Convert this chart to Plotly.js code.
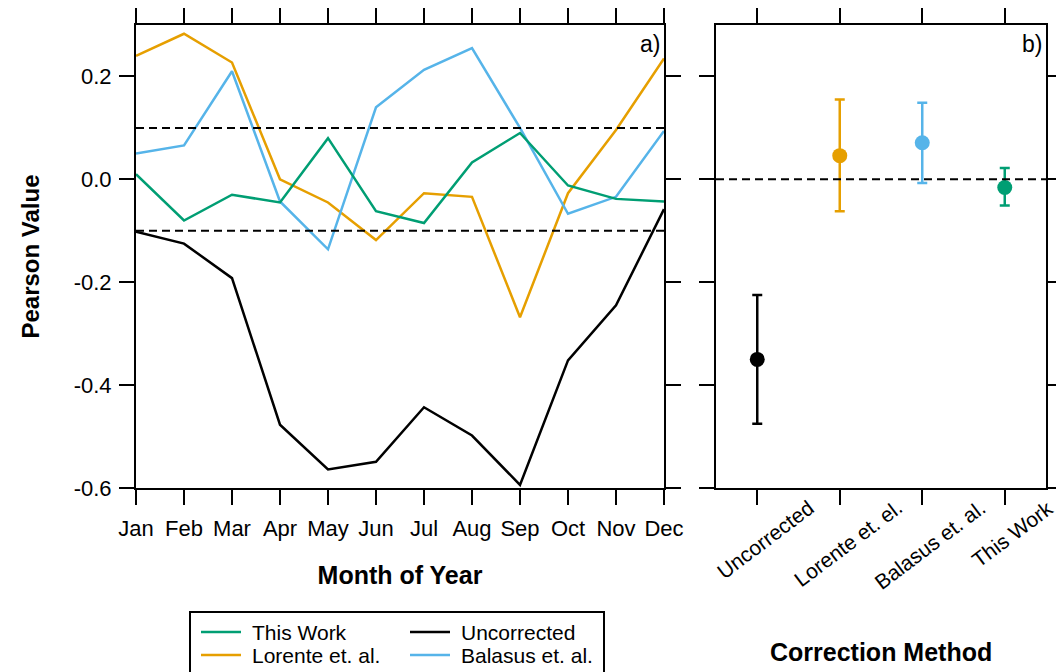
<!DOCTYPE html>
<html>
<head>
<meta charset="utf-8">
<script src="https://cdn.plot.ly/plotly-3.0.1.min.js"></script>
<style>html,body{margin:0;padding:0;background:#fff;}#chart{width:1056px;height:672px;}</style>
</head>
<body>
<div id="chart"></div>
<script>
// ---- data ----
const months = ['Jan','Feb','Mar','Apr','May','Jun','Jul','Aug','Sep','Oct','Nov','Dec'];
const thisWork    = [0.010, -0.080, -0.030, -0.045, 0.080, -0.062, -0.085, 0.033, 0.090, -0.012, -0.038, -0.043];
const lorente     = [0.240, 0.283, 0.227, 0.000, -0.045, -0.118, -0.027, -0.034, -0.268, -0.027, 0.096, 0.235];
const balasus     = [0.050, 0.066, 0.210, -0.043, -0.136, 0.140, 0.213, 0.255, 0.100, -0.067, -0.034, 0.094];
const uncorrected = [-0.102, -0.125, -0.192, -0.477, -0.564, -0.549, -0.443, -0.498, -0.594, -0.352, -0.245, -0.058];

const methods   = ['Uncorrected', 'Lorente et. el.', 'Balasus et. al.', 'This Work'];
const meanVals  = [-0.350, 0.046, 0.071, -0.016];
const errUpper  = [0.125, 0.109, 0.078, 0.038];
const errLower  = [0.125, 0.108, 0.078, 0.035];

const seriesNames = ['This Work', 'Uncorrected', 'Lorente et. al.', 'Balasus et. al.'];
const yTickVals = [-0.6, -0.4, -0.2, 0.0, 0.2];
const yTickText = ['-0.6', '-0.4', '-0.2', '0.0', '0.2'];
const thresholds = [0.1, -0.1];

// ---- style ----
const C = {green:'#009E73', orange:'#E69F00', blue:'#56B4E9', black:'#000000'};
const seriesData = [thisWork, uncorrected, lorente, balasus];
const seriesColors = [C.green, C.black, C.orange, C.blue];
const methodColors = [C.black, C.orange, C.blue, C.green];
const FONT = 'Liberation Sans, Arial, sans-serif';

const traces = [];
// draw black first so coloured lines sit on top
const drawOrder = [1, 2, 3, 0];
drawOrder.forEach(i => {
  traces.push({
    type:'scatter', mode:'lines', x: months, y: seriesData[i], name: seriesNames[i],
    line:{color: seriesColors[i], width:2.5}, xaxis:'x', yaxis:'y', showlegend:false
  });
});
methods.forEach((m, i) => {
  traces.push({
    type:'scatter', mode:'markers', x:[m], y:[meanVals[i]], name:m,
    marker:{color: methodColors[i], size:15},
    error_y:{type:'data', symmetric:false, array:[errUpper[i]], arrayminus:[errLower[i]],
             color: methodColors[i], thickness:2.5, width:5},
    xaxis:'x2', yaxis:'y2', showlegend:false
  });
});

// plot geometry (px)
const W = 1056, H = 672, ML = 136, MR = 10, MT = 25, MB = 184;
const PW = W - ML - MR, PH = H - MT - MB;
const px2x = p => (p - ML) / PW;
const py2y = p => (H - MB - p) / PH;

const axisCommon = {
  showline:true, linecolor:'#000', linewidth:2, mirror:'ticks',
  ticks:'outside', ticklen:15, tickwidth:2, tickcolor:'#000',
  showgrid:false, zeroline:false,
  tickfont:{family:FONT, size:22, color:'#000'}
};

const shapes = [];
thresholds.forEach(t => shapes.push({
  type:'line', xref:'x domain', yref:'y', x0:0, x1:1, y0:t, y1:t,
  line:{color:'#000', width:2, dash:'8px,5px'}
}));
shapes.push({type:'line', xref:'x2 domain', yref:'y2', x0:0, x1:1, y0:0, y1:0,
  line:{color:'#000', width:2, dash:'8px,5px'}});

// custom legend box (2 columns)
const legTop = 612, legLeft = 190, legRight = 604;
shapes.push({type:'rect', xref:'paper', yref:'paper',
  x0:px2x(legLeft), x1:px2x(legRight), y0:py2y(legTop), y1:py2y(H + 20),
  line:{color:'#000', width:2}, fillcolor:'rgba(0,0,0,0)'});
const annotations = [];
const colX = [201, 410];
const rowY = [632, 655];
seriesNames.forEach((n, i) => {
  const cx = colX[i % 2], cy = rowY[Math.floor(i / 2)];
  shapes.push({type:'line', xref:'paper', yref:'paper',
    x0:px2x(cx), x1:px2x(cx + 40), y0:py2y(cy), y1:py2y(cy),
    line:{color: seriesColors[i], width:2.5}});
  annotations.push({xref:'paper', yref:'paper', x:px2x(cx + 49), y:py2y(cy),
    xanchor:'left', yanchor:'middle', showarrow:false, text:n,
    font:{family:FONT, size:21, color:'#000'}});
});
// rotated category labels for panel b, centred under each tick
methods.forEach(m => annotations.push({
  xref:'x2', yref:'paper', x:m, y:py2y(493), xanchor:'center', yanchor:'top', xshift:8,
  textangle:-37, showarrow:false, text:m, font:{family:FONT, size:21, color:'#000'}
}));
annotations.push({xref:'x2 domain', yref:'paper', x:0.5, y:py2y(652), xanchor:'center', yanchor:'middle',
  showarrow:false, text:'<b>Correction Method</b>', font:{family:FONT, size:25, color:'#000'}});
annotations.push({xref:'x domain', yref:'y domain', x:1, y:1, xanchor:'right', yanchor:'top',
  xshift:-2, yshift:-4, showarrow:false, text:'a)', font:{family:FONT, size:23, color:'#000'}});
annotations.push({xref:'x2 domain', yref:'y2 domain', x:1, y:1, xanchor:'right', yanchor:'top',
  xshift:-2, yshift:-4, showarrow:false, text:'b)', font:{family:FONT, size:23, color:'#000'}});

const layout = {
  width:W, height:H,
  margin:{l:ML, r:MR, t:MT, b:MB},
  paper_bgcolor:'#fff', plot_bgcolor:'#fff',
  font:{family:FONT, color:'#000'},
  showlegend:false,
  xaxis:Object.assign({}, axisCommon, {
    domain:[0, px2x(664)], type:'category', categoryarray:months, range:[0, 11],
    ticklabelstandoff:5,
    title:{text:'<b>Month of Year</b>', font:{family:FONT, size:25, color:'#000'}, standoff:26}
  }),
  yaxis:Object.assign({}, axisCommon, {
    range:[-0.6, 0.3], tickvals:yTickVals, ticktext:yTickText, ticklabelstandoff:3,
    title:{text:'<b>Pearson Value</b>', font:{family:FONT, size:24, color:'#000'}, standoff:27}
  }),
  xaxis2:Object.assign({}, axisCommon, {
    domain:[px2x(716), 1], anchor:'y2', type:'category', categoryarray:methods, range:[-0.5, 3.5],
    showticklabels:false
  }),
  yaxis2:Object.assign({}, axisCommon, {
    anchor:'x2', range:[-0.6, 0.3], tickvals:yTickVals, showticklabels:false
  }),
  shapes:shapes,
  annotations:annotations
};

Plotly.newPlot('chart', traces, layout, {displayModeBar:false, staticPlot:true});
</script>
</body>
</html>
